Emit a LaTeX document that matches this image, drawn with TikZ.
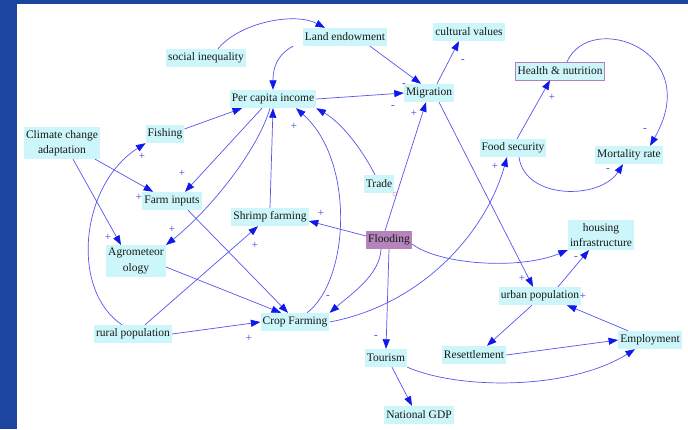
\documentclass[tikz,border=0pt]{standalone}
\usepackage{fontspec}
\setmainfont{Liberation Serif}
\usetikzlibrary{arrows.meta,calc}
\definecolor{frameblue}{RGB}{28,69,160}
\definecolor{boxcyan}{RGB}{204,246,250}
\definecolor{floodfill}{RGB}{180,132,186}
\definecolor{hnborder}{RGB}{170,130,190}
\definecolor{linecol}{RGB}{85,85,240}
\definecolor{tipcol}{RGB}{15,25,235}
\definecolor{signcol}{RGB}{60,60,230}
\definecolor{textcol}{RGB}{25,25,25}
\definecolor{dotcol}{RGB}{220,150,170}
\begin{document}
\begin{tikzpicture}[x=1pt,y=1pt,
  box/.style={fill=boxcyan, inner xsep=2pt, inner ysep=3pt, minimum height=18pt,
    font=\fontsize{11.5}{15.5}\selectfont, text=textcol, align=center},
  conn/.style={draw=linecol, line width=0.7pt, -{Triangle[length=9.5pt,width=7pt,color=tipcol]}},
  sgn/.style={text=signcol, font=\fontsize{11}{11}\selectfont, inner sep=0pt}]
\useasboundingbox (0,0) rectangle (688,-429);
\fill[frameblue] (0,0) rectangle (688,-429);
\fill[white] (17,-4) rectangle (688,-429);

% nodes
\node[box] (si) at (206,-58) {social inequality};
\node[box] (le) at (345,-37) {Land endowment};
\node[box] (cv) at (469,-32) {cultural values};
\node[box] (pci) at (273,-99) {Per capita income};
\node[box] (mig) at (429,-93) {Migration};
\node[box, draw=hnborder, line width=0.5pt] (hn) at (560,-71) {Health \& nutrition};
\node[box] (cca) at (62,-143) {Climate change\\adaptation};
\node[box] (fish) at (165,-134) {Fishing};
\node[box] (fs) at (513,-148) {Food security};
\node[box] (mr) at (629,-155) {Mortality rate};
\node[box] (trade) at (379,-184) {Trade};
\node[box] (fi) at (172,-201) {Farm inputs};
\node[box] (sf) at (270,-217) {Shrimp farming};
\node[box, fill=floodfill] (fl) at (389,-240) {Flooding};
\node[box] (hi) at (601,-235) {housing\\infrastructure};
\node[box] (agro) at (136,-261) {Agrometeor\\ology};
\node[box] (up) at (540,-296) {urban population};
\node[box] (rp) at (133,-334) {rural population};
\node[box] (cf) at (295,-322) {Crop Farming};
\node[box] (emp) at (650,-340) {Employment};
\node[box] (res) at (474,-355) {Resettlement};
\node[box] (tour) at (386,-358) {Tourism};
\node[box] (gdp) at (419,-415) {National GDP};
\node[circle, draw=dotcol, line width=0.5pt, inner sep=0pt, minimum size=4pt] (dot) at (395,-194) {};

% connectors
\draw[conn] ([xshift=12pt]si.north) .. controls (240,-22) and (295,-12) .. ([xshift=-20pt]le.north);
\draw[conn] ([xshift=-52pt]le.south) .. controls (282,-52) and (273,-62) .. (pci.north);
\draw[conn] ([xshift=25pt]le.south) -- ([xshift=-8pt]mig.north);
\draw[conn] (pci.east) -- (mig.west);
\draw[conn] ([xshift=8pt]mig.north) -- ([xshift=-10pt]cv.south);
\draw[conn] ([yshift=5pt]fish.east) -- ([xshift=-31pt]pci.south);
\draw[conn] ([xshift=-11pt]pci.south) -- ([xshift=13pt]fi.north);
\draw[conn] ([xshift=-3pt]pci.south) .. controls (258,-150) and (210,-210) .. (agro.north east);
\draw[conn] (sf.north) -- (pci.south);
\draw[conn] ([xshift=12pt]cf.north) .. controls (350,-280) and (355,-160) .. ([xshift=23pt]pci.south);
\draw[conn] ([xshift=-4pt]trade.north) .. controls (365,-155) and (345,-125) .. (pci.south east);
\draw[conn] ([xshift=-4pt]fl.north) -- ([xshift=-3pt]mig.south);
\draw[conn] ([xshift=10pt]mig.south) -- ([xshift=-7pt]up.north);
\draw[conn] ([yshift=4pt]fl.west) -- ([yshift=-4pt]sf.east);
\draw[conn] ([xshift=-8pt]fl.south) .. controls (380,-275) and (350,-295) .. (cf.north east);
\draw[conn] (fl.south) -- (tour.north);
\draw[conn] ([yshift=-4pt]fl.east) .. controls (440,-265) and (520,-270) .. (hi.south west);
\draw[conn] ([xshift=18pt]up.north) -- ([xshift=-12pt]hi.south);
\draw[conn] ([xshift=-22pt]emp.north) -- ([xshift=27pt]up.south);
\draw[conn] ([xshift=-8pt]up.south) -- ([xshift=13pt]res.north);
\draw[conn] (res.east) -- (emp.west);
\draw[conn] (tour.south east) .. controls (460,-390) and (570,-390) .. ([xshift=-15pt]emp.south);
\draw[conn] ([xshift=6pt]tour.south) -- ([xshift=-7pt]gdp.north);
\draw[conn] ([xshift=-5pt]cca.south east) -- ([xshift=11pt]fi.north west);
\draw[conn] ([xshift=11pt]cca.south) -- ([xshift=15pt]agro.north west);
\draw[conn] ([xshift=-11pt]rp.north) .. controls (70,-290) and (80,-185) .. (fish.south west);
\draw[conn] ([xshift=12pt]rp.north) -- ([xshift=-12pt]sf.south);
\draw[conn] (rp.east) -- (cf.west);
\draw[conn] ([yshift=-6pt]agro.east) -- ([xshift=-14pt]cf.north);
\draw[conn] ([xshift=16pt]fi.south) -- ([xshift=-7pt]cf.north);
\draw[conn] (cf.east) .. controls (420,-305) and (485,-235) .. ([xshift=-6pt]fs.south);
\draw[conn] ([xshift=4pt]fs.north) -- ([xshift=-10pt]hn.south);
\draw[conn] ([xshift=7pt]hn.north) .. controls (590,-10) and (705,-50) .. ([xshift=21pt]mr.north);
\draw[conn] ([xshift=6pt]fs.south) .. controls (525,-200) and (600,-200) .. ([xshift=-6pt]mr.south);

% polarity signs
\node[sgn] (p1) at (182,-173) {+};
\node[sgn] (p2) at (172,-229) {+};
\node[sgn] (p3) at (294,-126) {+};
\node[sgn] (p4) at (142,-156) {+};
\node[sgn] (p5) at (139,-197) {+};
\node[sgn] (p6) at (108,-237) {+};
\node[sgn] (p7) at (255,-245) {+};
\node[sgn] (p8) at (249,-338) {+};
\node[sgn] (p9) at (321,-213) {+};
\node[sgn] (m1) at (328,-297) {-};
\node[sgn] (m2) at (463,-61) {-};
\node[sgn] (m3) at (404,-85) {-};
\node[sgn] (m4) at (393,-107) {-};
\node[sgn] (p10) at (414,-113) {+};
\node[sgn] (p11) at (522,-278) {+};
\node[sgn] (m5) at (576,-258) {-};
\node[sgn] (p12) at (583,-296) {+};
\node[sgn] (m6) at (376,-337) {-};
\node[sgn] (p13) at (495,-166) {+};
\node[sgn] (p14) at (552,-97) {+};
\node[sgn] (m7) at (645,-130) {-};
\node[sgn] (m8) at (608,-170) {-};
\end{tikzpicture}
\end{document}
